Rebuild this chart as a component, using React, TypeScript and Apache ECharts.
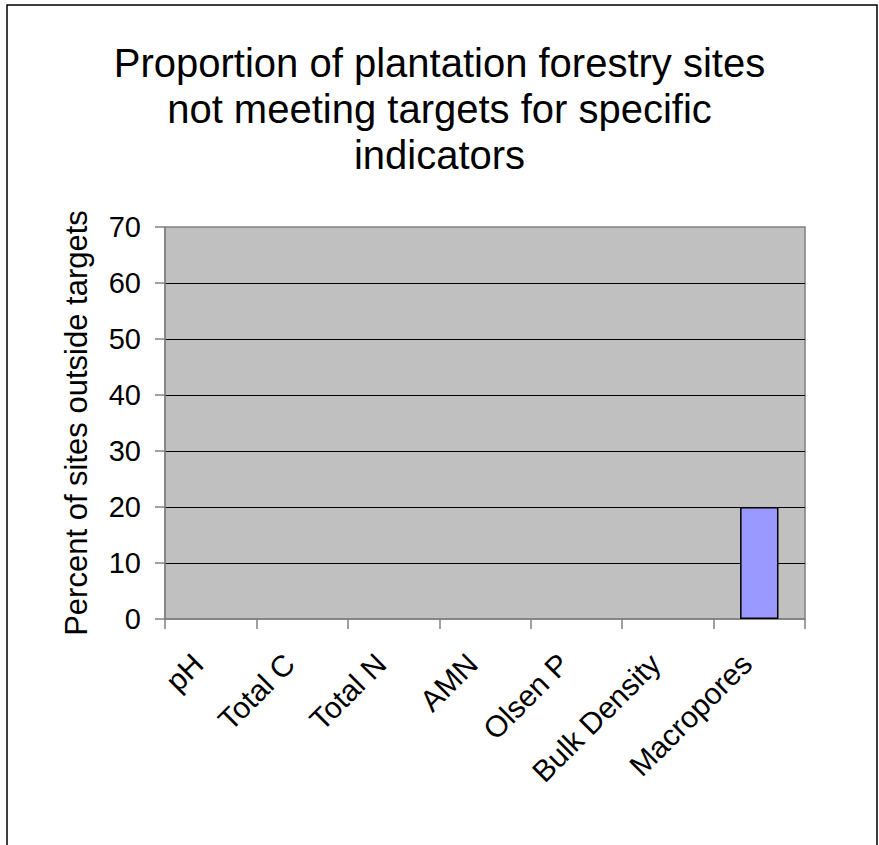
import React, { useEffect, useRef } from "react";
import * as echarts from "echarts";

const titleText = "Proportion of plantation forestry sites\nnot meeting targets for specific\nindicators";
const categories = ["pH", "Total C", "Total N", "AMN", "Olsen P", "Bulk Density", "Macropores"];
const percentOutside = [0, 0, 0, 0, 0, 0, 20];
const yAxisName = "Percent of sites outside targets";
const yMin = 0;
const yMax = 70;
const yInterval = 10;

export default function App() {
  const ref = useRef<HTMLDivElement>(null);
  useEffect(() => {
    if (!ref.current) return;
    const chart = echarts.init(ref.current, undefined, { renderer: "svg" });
    const font = "'Liberation Sans', Arial, sans-serif";
    chart.setOption({
      animation: false,
      backgroundColor: "#ffffff",
      title: {
        text: titleText,
        left: "center",
        top: 35,
        textStyle: {
          fontFamily: font,
          fontSize: 40,
          fontWeight: "normal",
          color: "#000",
          lineHeight: 46,
        },
      },
      graphic: [
        {
          type: "rect",
          z: -10,
          shape: { x: 7, y: 5, width: 870, height: 900 },
          style: { fill: "none", stroke: "#000", lineWidth: 1.5 },
          silent: true,
        },
      ],
      grid: {
        left: 165,
        top: 227,
        right: 74,
        bottom: 226,
        show: true,
        backgroundColor: "#C0C0C0",
        borderColor: "#808080",
        borderWidth: 1.5,
      },
      xAxis: {
        type: "category",
        data: categories,
        boundaryGap: true,
        axisLine: { show: true, lineStyle: { color: "#808080", width: 1.5 } },
        axisTick: { show: true, length: 10, inside: false, lineStyle: { color: "#808080", width: 1.5 } },
        axisLabel: {
          rotate: 45,
          margin: 27,
          interval: 0,
          padding: [0, 18, 0, 0],
          fontFamily: font,
          fontSize: 30,
          color: "#000",
        },
        splitLine: { show: false },
      },
      yAxis: {
        type: "value",
        min: yMin,
        max: yMax,
        interval: yInterval,
        name: yAxisName,
        nameLocation: "middle",
        nameGap: 73,
        nameTextStyle: { fontFamily: font, fontSize: 31, color: "#000" },
        axisLine: { show: true, lineStyle: { color: "#808080", width: 1.5 } },
        axisTick: { show: true, length: 10, inside: false, lineStyle: { color: "#808080", width: 1.5 } },
        axisLabel: { margin: 24, fontFamily: font, fontSize: 29, color: "#000" },
        splitLine: { show: true, showMinLine: false, showMaxLine: false, lineStyle: { color: "#000", width: 1 } },
      },
      series: [
        {
          type: "bar",
          data: percentOutside.map((v) =>
            v === 0 ? { value: v, itemStyle: { borderWidth: 0, opacity: 0 } } : v
          ),
          barWidth: "42%",
          itemStyle: { color: "#9999FF", borderColor: "#000", borderWidth: 1.5 },
        },
      ],
    });
    return () => chart.dispose();
  }, []);
  return (
    <div
      ref={ref}
      style={{ position: "fixed", left: 0, top: 0, width: 879, height: 845 }}
    />
  );
}
